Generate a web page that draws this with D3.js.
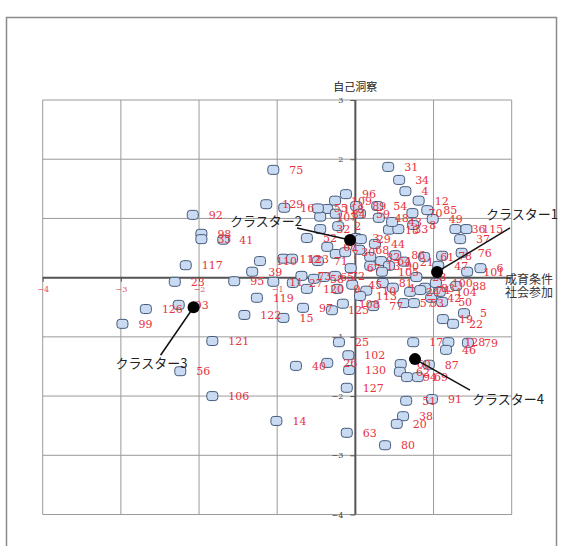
<!DOCTYPE html>
<html>
<head>
<meta charset="utf-8">
<script src="https://cdn.jsdelivr.net/npm/d3@7"></script>
<style>
  html, body { margin: 0; padding: 0; background: #fff; }
  svg { display: block; }
</style>
</head>
<body>
<script>
// Respondent scores on the two principal components
const ids = [75,129,16,92,98,35,41,117,110,39,23,95,11,119,126,93,99,121,56,106,14,122,15,40,97,120,
  31,34,4,12,96,109,118,84,89,59,107,32,2,54,48,18,33,8,70,85,49,36,115,37,52,3,29,44,68,66,82,64,
  61,78,76,47,6,101,88,100,13,90,105,81,112,123,71,73,27,58,65,72,9,45,10,24,83,42,57,53,50,5,19,22,
  77,108,125,25,102,26,130,127,17,128,79,46,87,60,62,94,69,91,51,38,20,63,80,
  7,21,28,1,30,43,55,67,74,86,104,113];
const xVals = [-1.05,-1.14,-0.91,-2.08,-1.97,-1.97,-1.69,-2.17,-1.22,-1.32,-2.31,-1.55,-1.05,-1.26,-2.68,-2.26,-2.98,-1.83,-2.24,-1.83,-1.01,-1.42,-0.92,-0.76,-0.67,-0.62,
  0.42,0.56,0.64,0.81,-0.12,-0.26,-0.36,-0.25,0.01,0.06,-0.45,-0.45,-0.22,0.28,0.30,0.43,0.55,0.74,0.73,0.92,0.99,1.28,1.42,1.34,-0.62,0.01,0.07,0.25,0.05,-0.36,0.19,0.33,
  0.88,1.11,1.36,1.06,1.60,1.43,1.29,1.03,0.19,0.43,0.34,0.35,-0.92,-0.81,-0.48,-0.69,-0.80,-0.53,-0.40,-0.26,-0.23,-0.04,0.14,0.70,0.89,0.97,0.62,0.75,1.11,1.39,1.12,1.25,
  0.23,-0.16,-0.30,-0.21,-0.09,-0.36,-0.08,-0.11,0.74,1.19,1.44,1.16,0.94,0.58,0.57,0.66,0.80,0.98,0.65,0.61,0.53,-0.11,0.38,
  -0.25,0.62,0.78,0.48,-0.13,0.47,-0.48,-0.06,0.83,0.51,1.08,0.06];
const yVals = [1.82,1.24,1.18,1.06,0.74,0.65,0.64,0.21,0.28,0.10,-0.07,-0.06,-0.07,-0.34,-0.53,-0.46,-0.78,-1.07,-1.58,-2.00,-2.42,-0.63,-0.68,-1.49,-0.51,-0.19,
  1.87,1.65,1.46,1.30,1.41,1.30,1.16,1.08,1.21,1.08,1.03,0.82,0.87,1.21,1.01,0.81,0.82,0.89,1.09,1.14,0.99,0.82,0.82,0.65,0.67,0.67,0.65,0.57,0.47,0.52,0.35,0.28,
  0.35,0.37,0.42,0.20,0.16,0.10,-0.14,-0.09,0.20,0.20,0.10,-0.09,0.32,0.32,0.28,0.03,-0.09,-0.02,0.01,0.03,-0.19,-0.12,-0.22,-0.24,-0.17,-0.34,-0.43,-0.43,-0.41,-0.60,-0.70,-0.78,
  -0.48,-0.44,-0.55,-1.09,-1.31,-1.44,-1.56,-1.86,-1.09,-1.09,-1.10,-1.22,-1.47,-1.46,-1.59,-1.68,-1.68,-2.05,-2.08,-2.34,-2.47,-2.62,-2.83,
  0.40,0.27,0.01,-0.17,0.43,0.94,1.17,0.16,-0.21,0.38,-0.24,-0.31];

// Cluster centroids
const clusterNames = ["クラスター1","クラスター2","クラスター3","クラスター4"];
const clusterX = [1.045,-0.068,-2.07,0.763];
const clusterY = [0.096,0.637,-0.50,-1.376];

// Axis settings
const xTicks = [-4,-3,-2,-1,1];
const yTicks = [3,2,1,-1,-2,-3,-4];
const xGrid = [-4,-3,-2,-1,0,1,2];
const yGrid = [-4,-3,-2,-1,0,1,2,3];
const yTitle = "自己洞察";
const xTitle = ["成育条件","社会参加"];

const W = 561, H = 546;
const svg = d3.select("body").append("svg").attr("width", W).attr("height", H);

// outer frame
svg.append("rect").attr("x", 6.5).attr("y", 17.5).attr("width", 550).attr("height", 540)
  .attr("fill", "none").attr("stroke", "#8a8a8a").attr("stroke-width", 1.5);

const x = d3.scaleLinear().domain([-4, 2]).range([42.7, 511.7]);
const y = d3.scaleLinear().domain([-4, 3]).range([514.5, 100]);

// grid
const g = svg.append("g");
g.selectAll("line.v").data(xGrid).join("line")
  .attr("x1", d => x(d)).attr("x2", d => x(d)).attr("y1", y(3)).attr("y2", y(-4))
  .attr("stroke", "#9a9a9a").attr("stroke-width", 1);
g.selectAll("line.h").data(yGrid).join("line")
  .attr("y1", d => y(d)).attr("y2", d => y(d)).attr("x1", x(-4)).attr("x2", x(2))
  .attr("stroke", "#9a9a9a").attr("stroke-width", 1);

// main axes
svg.append("line").attr("x1", x(-4)).attr("x2", x(2)).attr("y1", y(0)).attr("y2", y(0))
  .attr("stroke", "#555").attr("stroke-width", 2);
svg.append("line").attr("x1", x(0)).attr("x2", x(0)).attr("y1", y(3)).attr("y2", y(-4))
  .attr("stroke", "#555").attr("stroke-width", 2);

const xAxis = svg.append("g").attr("transform", `translate(0,${y(0)})`)
  .call(d3.axisBottom(x).tickValues(xTicks).tickSize(4).tickFormat(d3.format("d")));
xAxis.select(".domain").remove();
xAxis.selectAll("line").attr("stroke", "#555");
xAxis.selectAll("text").attr("fill", "#e0506a").attr("font-family", "DejaVu Serif").attr("font-size", 8).attr("dy", "0.9em");

const yAxis = svg.append("g").attr("transform", `translate(${x(0)},0)`)
  .call(d3.axisLeft(y).tickValues(yTicks).tickSize(5).tickFormat(d3.format("d")));
yAxis.select(".domain").remove();
yAxis.selectAll("line").attr("stroke", "#555");
yAxis.selectAll("text").attr("fill", "#444").attr("font-family", "DejaVu Serif").attr("font-size", 8).attr("dx", "-4");

// axis titles
svg.append("text").attr("x", x(0)).attr("y", 91).attr("text-anchor", "middle")
  .attr("font-family", "Noto Sans CJK JP").attr("font-size", 11).attr("fill", "#222").text(yTitle);
xTitle.forEach((t, i) => {
  svg.append("text").attr("x", 505).attr("y", 284 + i * 13)
    .attr("font-family", "Noto Sans CJK JP").attr("font-size", 12).attr("fill", "#333").text(t);
});

// respondents
const pts = ids.map((id, i) => ({ id, x: xVals[i], y: yVals[i] }));
svg.append("g").selectAll("rect").data(pts).join("rect")
  .attr("x", d => x(d.x) - 5.5).attr("y", d => y(d.y) - 4.5)
  .attr("width", 11).attr("height", 9).attr("rx", 3).attr("ry", 3)
  .attr("fill", "#c9dbf2").attr("stroke", "#45597a").attr("stroke-width", 1);
svg.append("g").selectAll("text").data(pts).join("text")
  .attr("x", d => x(d.x) + 16).attr("y", d => y(d.y) + 4)
  .attr("font-family", "DejaVu Serif").attr("font-size", 11).attr("fill", "#e8323c")
  .text(d => d.id);

// centroids with callouts
const callout = [
  { lx: 73, ly: -44, tx: 49, ty: -53, anchor: "start" },
  { lx: -53, ly: -12, tx: -48, ty: -14, anchor: "end" },
  { lx: -33, ly: 48, tx: -78, ty: 61, anchor: "start" },
  { lx: 55, ly: 31, tx: 57, ty: 45, anchor: "start" }
];
clusterNames.forEach((name, i) => {
  const cx = x(clusterX[i]), cy = y(clusterY[i]), c = callout[i];
  svg.append("line").attr("x1", cx).attr("y1", cy).attr("x2", cx + c.lx).attr("y2", cy + c.ly)
    .attr("stroke", "#111").attr("stroke-width", 1.5);
  svg.append("circle").attr("cx", cx).attr("cy", cy).attr("r", 6).attr("fill", "#000");
  svg.append("text").attr("x", cx + c.tx).attr("y", cy + c.ty).attr("text-anchor", c.anchor)
    .attr("font-family", "Noto Sans CJK JP").attr("font-size", 13).attr("fill", "#222").text(name);
});
</script>
</body>
</html>
